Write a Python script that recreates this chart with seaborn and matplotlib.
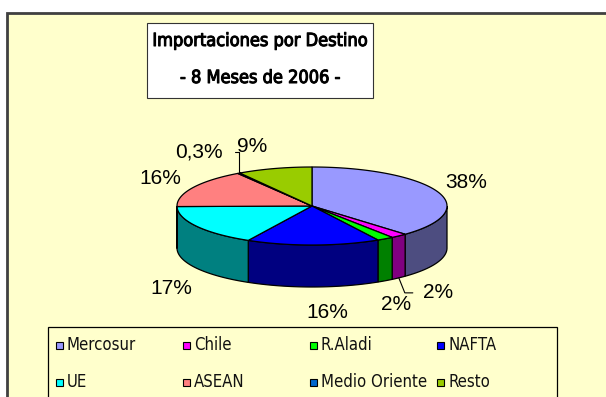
import numpy as np
import matplotlib
matplotlib.use("Agg")
import matplotlib.pyplot as plt
import matplotlib.patheffects as pe
import seaborn as sns
from matplotlib.patches import Polygon, Rectangle
from matplotlib import font_manager

# ---- data -------------------------------------------------------------
regions = ["Mercosur", "Chile", "R.Aladi", "NAFTA", "UE", "ASEAN",
           "Medio Oriente", "Resto"]
shares = [38, 2, 2, 16, 17, 16, 0.3, 9]
colors = ["#9999FF", "#FF00FF", "#00FF00", "#0000FF", "#00FFFF", "#FF8080",
          "#0066CC", "#99CC00"]
title_lines = ["Importaciones por Destino", "- 8 Meses de 2006 -"]

# ---- style ------------------------------------------------------------
sns.set_theme(style="white")
plt.rcParams["font.family"] = ["Liberation Sans", "DejaVu Sans"]

# look for a condensed sans face for the title and legend
fonts = font_manager.fontManager.ttflist
names = {f.name for f in fonts}
cond_family, cond_stretch = "Liberation Sans", "normal"
if "Liberation Sans Narrow" in names:
    cond_family = "Liberation Sans Narrow"
elif any(f.name == "DejaVu Sans" and str(f.stretch) in ("condensed", "semi-condensed")
         for f in fonts):
    cond_family, cond_stretch = "DejaVu Sans", "condensed"
has_cond = cond_family != "Liberation Sans"

W, H = 606, 397
fig = plt.figure(figsize=(W / 100, H / 100), dpi=100)
ax = fig.add_axes([0, 0, 1, 1])
ax.set_xlim(0, W)
ax.set_ylim(H, 0)
ax.axis("off")
fig.patch.set_facecolor("white")

# chart area
ax.add_patch(Rectangle((7, 13), W + 20, H + 20, facecolor="#FFFFCC",
                       edgecolor="#404040", linewidth=2, zorder=0))

# title box: condensed face, thickened with a thin stroke for a bold look
ax.add_patch(Rectangle((147, 23), 226, 75, facecolor="white",
                       edgecolor="#333333", linewidth=0.8, zorder=1))
title_size = 13.0 if has_cond else 12.3
bold_fx = [pe.withStroke(linewidth=0.75, foreground="black")]
for line, y in zip(title_lines, (41, 78)):
    ax.text(260, y, line, ha="center", va="center", fontsize=title_size,
            family=[cond_family, "DejaVu Sans"], fontstretch=cond_stretch,
            fontweight="normal" if has_cond else "bold",
            path_effects=bold_fx if has_cond else None,
            color="black", zorder=2)

# ---- 3D pie geometry ----------------------------------------------------
cx, cy, rx, ry, depth = 312, 206, 135, 39, 42
vals = np.array(shares, dtype=float)
frac = vals / vals.sum()
cum = np.concatenate([[0], np.cumsum(frac)])
start = 90 - 360 * cum[:-1]
end = 90 - 360 * cum[1:]


def rim(t_deg, dy=0.0):
    t = np.radians(t_deg)
    return np.column_stack([cx + rx * np.cos(t), cy - ry * np.sin(t) + dy])


def shade(c):
    r, g, b = matplotlib.colors.to_rgb(c)
    return (r * 0.5, g * 0.5, b * 0.5)


# outer walls on the front half of the cylinder
for a, b, c in zip(start, end, colors):
    lo, hi = max(b, -180), min(a, 0)
    if hi <= lo:
        continue
    t = np.linspace(hi, lo, 80)
    top = rim(t)
    bot = rim(t[::-1], depth)
    ax.add_patch(Polygon(np.vstack([top, bot]), closed=True, facecolor=shade(c),
                         edgecolor="black", linewidth=0.9, zorder=3))

# top faces
for a, b, c in zip(start, end, colors):
    t = np.linspace(a, b, max(4, int(abs(a - b) * 2)))
    pts = np.vstack([[cx, cy], rim(t)])
    ax.add_patch(Polygon(pts, closed=True, facecolor=c, edgecolor="black",
                         linewidth=0.9, zorder=4))

# ---- percentage labels ---------------------------------------------------
label_xy = [(466, 183), (438, 293), (396, 305), (327, 313),
            (171, 289), (160, 179), (199, 152), (252, 147)]


def pct(v):
    return f"{v:.1f}%".replace(".", ",") if v < 1 else f"{v:.0f}%"


for v, (x, y) in zip(shares, label_xy):
    ax.text(x, y, pct(v), ha="center", va="center", fontsize=15,
            family=["Liberation Sans", "DejaVu Sans"], fontstretch="normal",
            color="black", zorder=6)

# leader lines for the two smallest slices next to their labels
mid = (start + end) / 2
p = rim([mid[1]], depth)[0]          # Chile
ax.plot([p[0], p[0] + 6, p[0] + 14], [p[1], p[1] + 15, p[1] + 15],
        color="black", linewidth=0.8, zorder=5)
p = rim([mid[6]])[0]                 # Medio Oriente
ax.plot([p[0] - 4, p[0], p[0]], [152, 152, p[1]],
        color="black", linewidth=0.8, zorder=5)

# ---- legend (two rows of four, filled row by row) ------------------------
ax.add_patch(Rectangle((48, 327), 509, 100, facecolor="#FFFFCC",
                       edgecolor="black", linewidth=0.9, zorder=1))
leg_size = 12 if has_cond else 11.5
for i, (name, c) in enumerate(zip(regions, colors)):
    row, col = divmod(i, 4)
    x0 = 56 + 127 * col
    y0 = 345 + 37 * row
    ax.add_patch(Rectangle((x0, y0 - 3.5), 7, 7, facecolor=c,
                           edgecolor="black", linewidth=0.8, zorder=2))
    ax.text(x0 + 11, y0, name, ha="left", va="center", fontsize=leg_size,
            family=[cond_family, "DejaVu Sans"], fontstretch=cond_stretch,
            color="#111111", zorder=2)

fig.savefig("out.png", dpi=100, facecolor=fig.get_facecolor())
